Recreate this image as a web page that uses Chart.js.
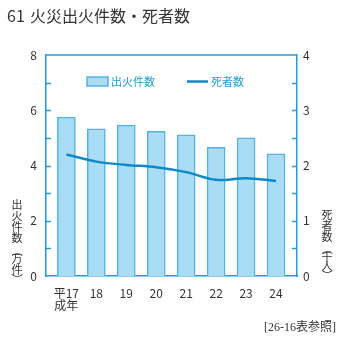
<!DOCTYPE html>
<html>
<head>
<meta charset="utf-8">
<script src="https://cdn.jsdelivr.net/npm/chart.js@4"></script>
<style>
  html, body { margin: 0; padding: 0; background: #fff; }
  #wrap { width: 341px; height: 341px; position: relative; }
</style>
</head>
<body>
<div id="wrap"><canvas id="c" width="341" height="341"></canvas></div>
<script>
// 年次ラベル（平成）
const years = [['平17', '成年'], '18', '19', '20', '21', '22', '23', '24'];
// 出火件数（万件）
const fires = [5.75, 5.33, 5.46, 5.24, 5.11, 4.66, 5.00, 4.42];
// 死者数（千人）
const deaths = [2.20, 2.07, 2.01, 1.97, 1.88, 1.74, 1.77, 1.72];
const leftTicks = [0, 2, 4, 6, 8];
const rightTicks = [0, 1, 2, 3, 4];

const AXIS = '#239cd6';
const BAR_FILL = '#aadcf5';
const BAR_EDGE = '#55b3e0';
const LINE = '#0c8ac6';
const TEXT = '#333333';
const FONT = "'Noto Sans CJK JP', 'Noto Sans', sans-serif";

const barPoints = fires.map((v, i) => ({ x: i, y: v }));
const linePoints = deaths.map((v, i) => ({ x: i, y: v }));

// 縦書きの軸タイトル
function drawVertical(ctx, x, items) {
  ctx.save();
  ctx.fillStyle = TEXT;
  ctx.font = '11px ' + FONT;
  ctx.textAlign = 'center';
  ctx.textBaseline = 'middle';
  items.forEach(([ch, y]) => {
    if (ch === '（' || ch === '）') {
      ctx.save();
      ctx.translate(x, y);
      ctx.rotate(Math.PI / 2);
      ctx.fillText(ch, 0, 0);
      ctx.restore();
    } else {
      ctx.fillText(ch, x, y);
    }
  });
  ctx.restore();
}

const decor = {
  id: 'decor',
  afterDraw(chart) {
    const ctx = chart.ctx;
    const a = chart.chartArea;
    const yL = chart.scales.y, yR = chart.scales.y2;
    ctx.save();
    // 枠の上辺
    ctx.strokeStyle = AXIS;
    ctx.lineWidth = 1.5;
    ctx.beginPath();
    ctx.moveTo(a.left, a.top);
    ctx.lineTo(a.right, a.top);
    ctx.stroke();
    // 内向きの目盛り
    for (let v = 1; v < 8; v++) {
      const py = Math.round(yL.getPixelForValue(v)) + 0.5;
      ctx.beginPath();
      ctx.moveTo(a.left, py);
      ctx.lineTo(a.left + 5, py);
      ctx.stroke();
    }
    for (let v = 0.5; v < 4; v += 0.5) {
      const py = Math.round(yR.getPixelForValue(v)) + 0.5;
      ctx.beginPath();
      ctx.moveTo(a.right - 5, py);
      ctx.lineTo(a.right, py);
      ctx.stroke();
    }
    ctx.restore();

    // 凡例
    const dsBar = chart.data.datasets[0], dsLine = chart.data.datasets[1];
    ctx.save();
    ctx.fillStyle = BAR_FILL;
    ctx.strokeStyle = BAR_EDGE;
    ctx.lineWidth = 1.5;
    ctx.fillRect(87, 77, 21, 9);
    ctx.strokeRect(87, 77, 21, 9);
    ctx.strokeStyle = LINE;
    ctx.lineWidth = 2.5;
    ctx.beginPath();
    ctx.moveTo(187, 81.5);
    ctx.lineTo(208, 81.5);
    ctx.stroke();
    ctx.fillStyle = AXIS;
    ctx.font = '11px ' + FONT;
    ctx.textBaseline = 'middle';
    ctx.fillText(dsBar.label, 111, 82);
    ctx.fillText(dsLine.label, 211, 82);
    ctx.restore();

    // 表題
    ctx.save();
    ctx.fillStyle = TEXT;
    ctx.textBaseline = 'middle';
    ctx.font = '16px ' + FONT;
    ctx.fillText('61', 7, 16);
    ctx.fillText('火災出火件数・死者数', 30, 16);
    ctx.font = "12px 'Liberation Serif', 'Noto Sans CJK JP', serif";
    ctx.textAlign = 'right';
    ctx.fillText('[26-16表参照]', 336, 328);
    ctx.restore();

    drawVertical(ctx, 17, [['出', 205], ['火', 216], ['件', 227], ['数', 238],
      ['（', 251], ['万', 259], ['件', 270], ['）', 279]]);
    drawVertical(ctx, 327, [['死', 215], ['者', 226], ['数', 237],
      ['（', 249], ['千', 257], ['人', 266], ['）', 275]]);
  }
};

new Chart(document.getElementById('c'), {
  type: 'bar',
  data: {
    datasets: [
      {
        type: 'bar',
        label: '出火件数',
        data: barPoints,
        yAxisID: 'y',
        backgroundColor: BAR_FILL,
        borderColor: BAR_EDGE,
        borderWidth: 1.5,
        barThickness: 18,
        order: 2
      },
      {
        type: 'line',
        label: '死者数',
        data: linePoints,
        yAxisID: 'y2',
        borderColor: LINE,
        borderWidth: 2.5,
        pointRadius: 0,
        tension: 0.35,
        fill: false,
        order: 1
      }
    ]
  },
  options: {
    responsive: false,
    animation: false,
    devicePixelRatio: 1,
    layout: { padding: { top: 55, left: 0, right: 0, bottom: 0 } },
    plugins: { legend: { display: false }, tooltip: { enabled: false } },
    scales: {
      x: {
        type: 'linear',
        offset: false,
        min: -0.68,
        max: 7.7,
        afterBuildTicks: (s) => { s.ticks = years.map((_, i) => ({ value: i })); },
        afterFit: (s) => { s.height = 65; },
        grid: { display: false, drawTicks: false },
        border: { display: true, color: AXIS, width: 1.5 },
        ticks: {
          autoSkip: false,
          maxRotation: 0,
          padding: 11,
          color: TEXT,
          font: { family: FONT, size: 12, lineHeight: 1.0 },
          callback: (v) => years[v]
        }
      },
      y: {
        position: 'left',
        min: 0,
        max: 8,
        afterBuildTicks: (s) => { s.ticks = leftTicks.map(v => ({ value: v })); },
        afterFit: (s) => { s.width = 46; },
        grid: { display: false, drawTicks: false },
        border: { display: true, color: AXIS, width: 1.5 },
        ticks: { padding: 9, color: TEXT, font: { family: FONT, size: 12 } }
      },
      y2: {
        position: 'right',
        min: 0,
        max: 4,
        afterBuildTicks: (s) => { s.ticks = rightTicks.map(v => ({ value: v })); },
        afterFit: (s) => { s.width = 44; },
        grid: { display: false, drawTicks: false },
        border: { display: true, color: AXIS, width: 1.5 },
        ticks: { padding: 6, color: TEXT, font: { family: FONT, size: 12 } }
      }
    }
  },
  plugins: [decor]
});
</script>
</body>
</html>
